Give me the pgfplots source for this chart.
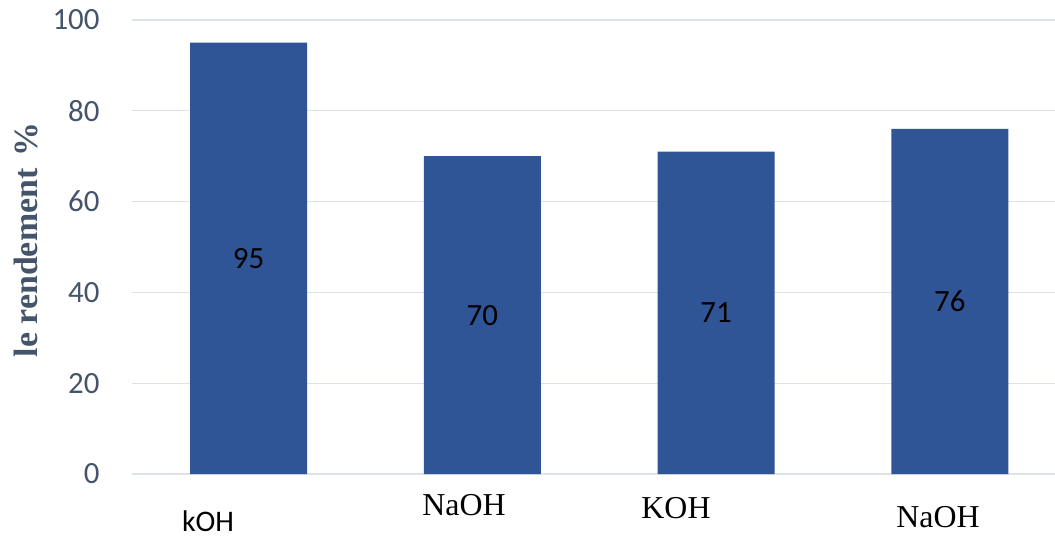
\documentclass[border=0pt]{standalone}
\usepackage{fontspec}
\setmainfont{Liberation Serif}
\newfontfamily\carlito{Carlito}
\usepackage{pgfplots}
\usepackage{pgfplotstable}
\pgfplotsset{compat=1.18}
\definecolor{barblue}{HTML}{2F5597}
\definecolor{ticktext}{HTML}{44546A}
\definecolor{gridc}{HTML}{DDE1E8}

\pgfplotstableread{
x y mid
0 95 47.5
1 70 35
2 71 35.5
3 76 38
}\datatable

\begin{document}
\begin{tikzpicture}
\begin{axis}[
  at={(131.7bp,63bp)}, anchor=south west,
  scale only axis, width=923.3bp, height=454bp,
  xmin=-0.5, xmax=3.45, ymin=0, ymax=100,
  axis line style={draw=none},
  major tick length=0pt,
  xtick=\empty,
  ytick={0,20,40,60,80,100},
  ymajorgrids,
  grid style={gridc, line width=1.2bp},
  /pgf/number format/assume math mode=true,
  yticklabel style={font=\carlito\fontsize{31}{36}\selectfont, text=ticktext, anchor=east, inner sep=0pt, xshift=-32bp},
  clip=false,
]
\addplot[ybar, bar width=117bp, fill=barblue, draw=none] table[x=x, y=y] {\datatable};
\addplot[draw=none, mark=none, nodes near coords, point meta=explicit,
  nodes near coords style={font=\carlito\fontsize{31}{36}\selectfont, text=black, anchor=center}]
  table[x=x, y=mid, meta=y] {\datatable};
\end{axis}
\node[rotate=90, inner sep=0pt, font=\bfseries\fontsize{34}{38}\selectfont, text=ticktext] at (26bp,297bp) {le rendement\hspace{0.35em}\%};
\node[inner sep=0pt, font=\carlito\fontsize{30}{36}\selectfont, anchor=center] at (208bp,16bp) {kOH};
\node[inner sep=0pt, font=\fontsize{32}{38}\selectfont, anchor=center] at (464bp,32bp) {NaOH};
\node[inner sep=0pt, font=\fontsize{32}{38}\selectfont, anchor=center] at (676bp,29bp) {KOH};
\node[inner sep=0pt, font=\fontsize{32}{38}\selectfont, anchor=center] at (938bp,20bp) {NaOH};
\pgfresetboundingbox
\path[use as bounding box] (0,0) rectangle (1055bp,537bp);
\end{tikzpicture}
\end{document}
